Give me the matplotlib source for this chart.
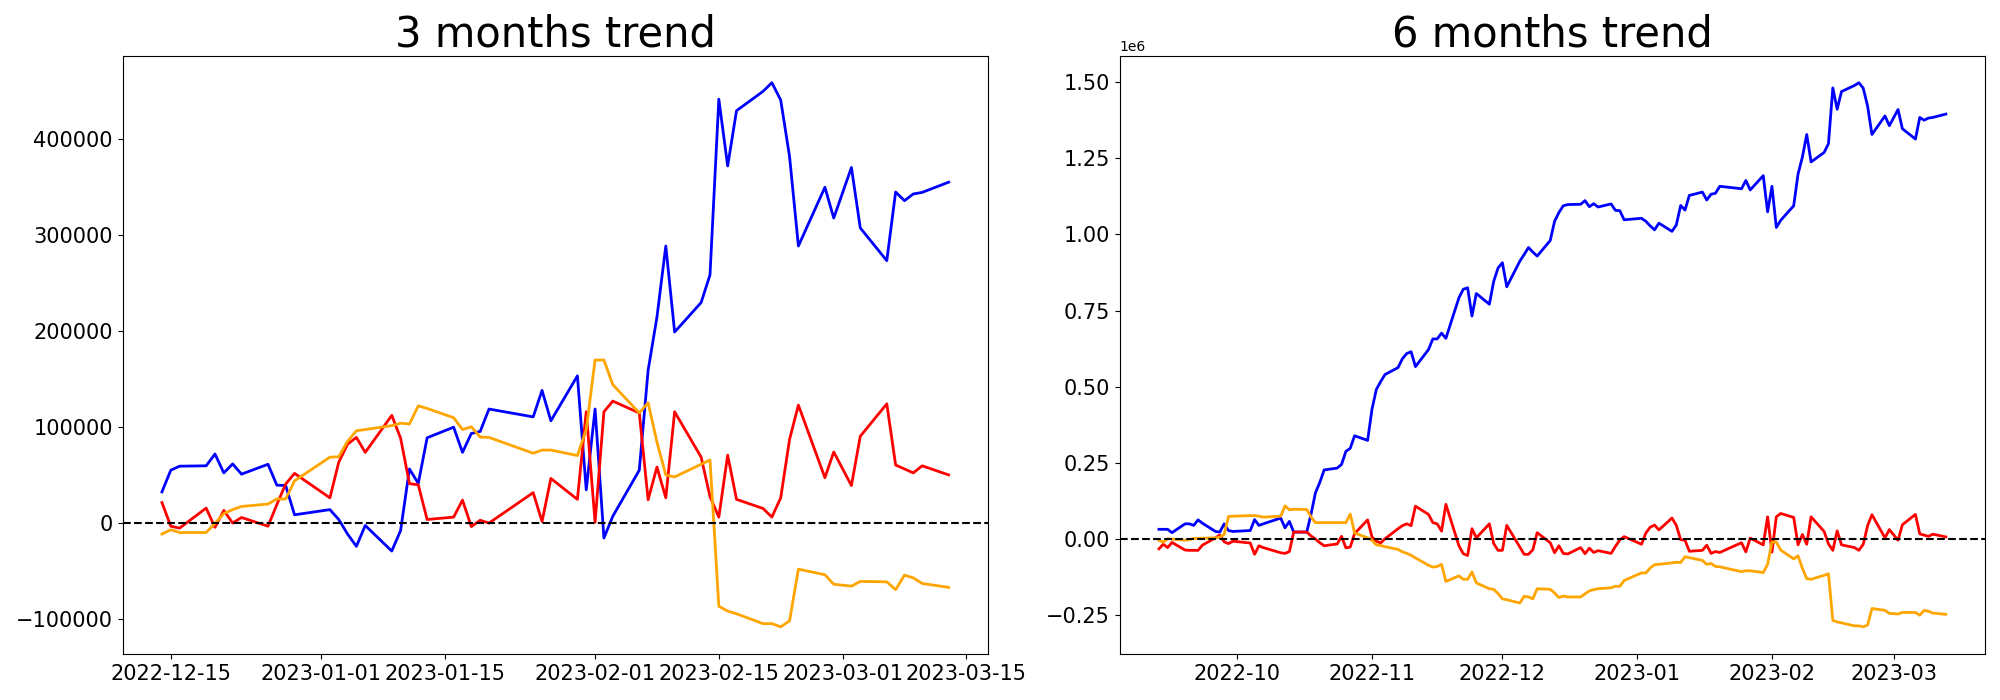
import numpy as np
import pandas as pd
import matplotlib
matplotlib.use('Agg')
import matplotlib.pyplot as plt
import matplotlib.dates as mdates

# Korean market holidays in the window (no trading on these days)
kr_holidays = ['2022-10-03', '2022-10-10', '2022-12-30',
               '2023-01-23', '2023-01-24', '2023-03-01']

dates_3m = pd.bdate_range('2022-12-14', '2023-03-13', freq='C', holidays=kr_holidays)
dates_6m = pd.bdate_range('2022-09-13', '2023-03-13', freq='C', holidays=kr_holidays)

# cumulative values, in thousands
blue_3m = [32.5, 55.1, 59.3, 59.7, 72.0, 52.3, 61.7, 51.0, 61.3, 39.5, 39.1, 8.6,
           14.0, 3.7, -11.5, -24.3, -2.5, -29.2, -7.8, 56.4, 41.4, 88.9,
           100.0, 73.7, 93.4, 95.5, 118.9, 110.7, 138.3, 106.6, 153.5, 34.6,
           118.9, -15.6, 7.0, 55.1, 159.3, 214.8, 288.9, 199.2, 230.0, 258.8,
           442.0, 372.4, 430.0, 450.2, 459.2, 441.1, 382.3, 288.9, 350.2, 318.1,
           370.8, 307.8, 273.6, 345.2, 336.2, 343.2, 344.8, 355.5]
red_3m = [21.4, -3.3, -5.3, 15.6, -4.5, 13.2, 0.0, 5.8, -3.3, 19.3, 40.7, 51.8,
          26.3, 63.4, 82.3, 89.3, 73.7, 112.3, 88.5, 41.1, 39.9, 3.7,
          6.2, 23.9, -3.7, 2.9, 0.0, 31.7, 1.6, 46.5, 24.7, 116.0,
          0.8, 116.0, 127.2, 114.8, 24.3, 58.4, 26.3, 116.0, 68.7, 27.6,
          6.2, 70.8, 24.7, 15.2, 6.2, 26.3, 87.2, 123.0, 47.3, 74.1,
          39.1, 90.5, 124.3, 60.5, 56.4, 52.3, 59.7, 50.2]
orange_3m = [-11.5, -7.0, -9.9, -9.9, -0.4, 9.9, 14.0, 17.3, 19.8, 25.1, 25.1, 44.0,
             68.7, 69.1, 85.2, 96.3, 97.5, 101.6, 104.1, 103.3, 122.2, 119.5,
             109.9, 97.5, 100.4, 89.7, 89.3, 72.8, 76.1, 76.1, 70.4, 97.5,
             170.0, 170.0, 144.4, 114.8, 125.5, 84.4, 50.2, 48.1, 61.3, 65.8,
             -86.8, -91.8, -94.6, -104.9, -104.9, -108.2, -102.1, -48.1, -53.9, -63.8,
             -65.8, -60.9, -61.3, -69.5, -54.3, -57.2, -63.0, -67.1]

blue_6m = [32, 32, 32, 21, 50, 50, 45, 63, 52, 25, 23, 50, 28, 25,
           28, 64, 45, 50, 69, 37, 58, 23, 23, 83, 152, 186, 227, 233, 245, 288, 298, 339, 324,
           426, 491, 517, 540, 563, 592, 609, 615, 566, 622, 657, 657, 676, 659, 792, 820, 825,
           732, 806, 771, 846, 890,
           907, 828, 912, 934, 957, 942, 929, 980, 1043, 1072, 1094, 1098, 1099, 1111, 1091,
           1101, 1090, 1100, 1079, 1078, 1048,
           1053, 1043, 1028, 1015, 1037, 1010, 1031, 1095, 1080, 1128, 1139, 1113, 1132, 1135,
           1158, 1150, 1177, 1146, 1193, 1074,
           1158, 1023, 1046, 1094, 1198, 1254, 1328, 1238, 1269, 1298, 1481, 1411, 1469, 1489,
           1498, 1480, 1421, 1328, 1389, 1357,
           1410, 1347, 1313, 1384, 1375, 1382, 1384, 1395]
red_6m = [-32, -17, -28, -11, -36, -37, -37, -37, -20, 4, 13, -9, -15, -7,
          -13, -50, -22, -28, -45, -47, -41, 23, 23, 10, 0, -12, -22, -16, 9, -29, -26, 18, 63,
          7, -7, -13, 1, 34, 44, 50, 44, 108, 81, 54, 50, 26, 114, -22, -48, -54, 34, 4, 50, -15, -37,
          -37, 45, -26, -50, -50, -35, 21, -12, -45, -22, -47, -49, -28, -48, -30, -44, -38, -47,
          -24, -3, 8,
          -17, 20, 39, 46, 30, 69, 45, -2, -4, -40, -37, -20, -47, -41, -44, -12, -42, 3, -19, 73,
          -43, 73, 84, 71, -19, 15, -17, 73, 25, -16, -37, 27, -19, -28, -37, -17, 44, 80, 4, 31,
          -4, 47, 81, 17, 13, 9, 16, 7]
orange_6m = [-4, -10, 1, 0, -4, -2, 2, 2, 3, 4, 6, 15, 74, 75,
             77, 77, 75, 72, 75, 109, 96, 98, 97, 72, 54, 54, 54, 54, 54, 54, 82, 20, 4,
             -4, -19, -21, -25, -34, -42, -47, -53, -62, -86, -92, -90, -83, -139, -121, -132,
             -132, -108, -144, -163, -165, -179,
             -196, -199, -210, -188, -190, -196, -163, -165, -177, -192, -187, -190, -190, -180,
             -170, -166, -163, -160, -155, -155, -136,
             -111, -111, -95, -84, -83, -78, -76, -77, -58, -61, -70, -83, -80, -90, -91, -107,
             -104, -104, -110, -83,
             -10, -10, -36, -65, -55, -96, -130, -132, -119, -114, -267, -272, -275, -285, -285,
             -288, -282, -228, -234, -244,
             -246, -241, -241, -250, -234, -237, -243, -247]

fig = plt.figure(figsize=(20, 7))
ax1 = fig.add_axes([0.0613, 0.0657, 0.4327, 0.855])
ax2 = fig.add_axes([0.5598, 0.0657, 0.4328, 0.855])

panels = [
    (ax1, dates_3m, blue_3m, red_3m, orange_3m, '3 months trend'),
    (ax2, dates_6m, blue_6m, red_6m, orange_6m, '6 months trend'),
]
for ax, dates, b, r, o, title in panels:
    ax.plot(dates, np.array(b) * 1000, color='blue', lw=2)
    ax.plot(dates, np.array(r) * 1000, color='red', lw=2)
    ax.plot(dates, np.array(o) * 1000, color='orange', lw=2)
    ax.axhline(0, color='black', linestyle='--', lw=1.5)
    ax.set_title(title, fontsize=30)
    ax.tick_params(labelsize=15)

# left: 1st / 15th of month, right: monthly
ax1.xaxis.set_major_locator(mdates.DayLocator(bymonthday=[1, 15]))
ax1.xaxis.set_major_formatter(mdates.DateFormatter('%Y-%m-%d'))
ax2.xaxis.set_major_locator(mdates.MonthLocator())
ax2.xaxis.set_major_formatter(mdates.DateFormatter('%Y-%m'))

plt.savefig('out.png', dpi=100)
plt.close()
